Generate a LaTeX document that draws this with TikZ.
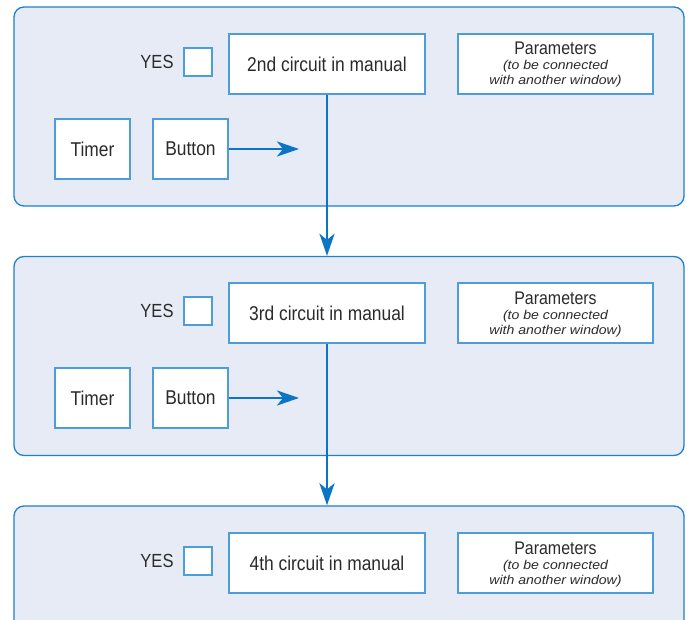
\documentclass[tikz,border=0pt]{standalone}
\usepackage{fontspec}
\setmainfont[FakeStretch=0.87]{Liberation Sans}
\newfontfamily\paritfont[FakeStretch=1.1]{Liberation Sans}
\usetikzlibrary{arrows.meta}
\definecolor{panelfill}{HTML}{E6EBF5}
\definecolor{panelline}{HTML}{1F80D0}
\definecolor{boxline}{HTML}{4C9DDA}
\definecolor{arrowc}{HTML}{0B74C4}
\definecolor{txt}{HTML}{2B2B2B}
\tikzset{
  panel/.style={draw=panelline, line width=1.3pt, fill=panelfill, rounded corners=10pt, minimum width=670pt, minimum height=199pt, inner sep=0pt},
  wbox/.style={draw=boxline, line width=1.1pt, fill=white, inner sep=0pt, text=txt, align=center},
  yesbox/.style={wbox, minimum width=28pt, minimum height=28pt},
  circbox/.style={wbox, minimum width=196pt, minimum height=60pt, font=\fontsize{20}{22}\selectfont},
  parbox/.style={wbox, minimum width=195pt, minimum height=60pt},
  smallbox/.style={wbox, minimum width=75pt, minimum height=60pt, font=\fontsize{20}{22}\selectfont},
  lbl/.style={text=txt, font=\fontsize{19}{22}\selectfont, inner sep=0pt},
  partitle/.style={text=txt, font=\fontsize{18.3}{20}\selectfont, inner sep=0pt, anchor=base},
  parnote/.style={text=txt, font=\paritfont\itshape\fontsize{12.8}{14}\selectfont, inner sep=0pt, anchor=base},
  flow/.style={draw=arrowc, line width=2.7pt, -{Stealth[length=22pt,width=15pt,inset=6pt]}},
}
\begin{document}
\begin{tikzpicture}[x=1pt,y=-1pt]
\useasboundingbox (0,0) rectangle (693,620);
% panels
\node[panel] (p1) at (349,106.5) {};
\node[panel] (p2) at (349,356) {};
\node[panel, minimum height=140pt] (p3) at (349,576) {};
% panel 1
\node[lbl] (yes1t) at (157,62) {YES};
\node[yesbox] (yes1) at (198,62) {};
\node[circbox] (c1) at (327,64) {2nd circuit in manual};
\node[parbox] (par1) at (555.5,64) {};
\node[partitle] (par1a) at (555.5,55) {Parameters};
\node[parnote] (par1b) at (555.5,70) {(to be connected};
\node[parnote] (par1c) at (555.5,85) {with another window)};
\node[smallbox] (t1) at (92.5,149) {Timer};
\node[smallbox] (b1) at (190.5,149) {Button};
\coordinate (e1) at (299,149);
% panel 2
\node[lbl] (yes2t) at (157,311) {YES};
\node[yesbox] (yes2) at (198,311) {};
\node[circbox] (c2) at (327,313) {3rd circuit in manual};
\node[parbox] (par2) at (555.5,313) {};
\node[partitle] (par2a) at (555.5,304) {Parameters};
\node[parnote] (par2b) at (555.5,319) {(to be connected};
\node[parnote] (par2c) at (555.5,334) {with another window)};
\node[smallbox] (t2) at (92.5,398) {Timer};
\node[smallbox] (b2) at (190.5,398) {Button};
\coordinate (e2) at (299,398);
% panel 3
\node[lbl] (yes3t) at (157,561) {YES};
\node[yesbox] (yes3) at (198,561) {};
\node[circbox] (c3) at (327,563) {4th circuit in manual};
\node[parbox] (par3) at (555.5,563) {};
\node[partitle] (par3a) at (555.5,554) {Parameters};
\node[parnote] (par3b) at (555.5,569) {(to be connected};
\node[parnote] (par3c) at (555.5,584) {with another window)};
% arrows
\draw[flow] (b1.east) -- (e1);
\draw[flow] (b2.east) -- (e2);
\draw[flow] (c1.south) -- (c1.south |- p2.north);
\draw[flow] (c2.south) -- (c2.south |- p3.north);
\end{tikzpicture}
\end{document}
